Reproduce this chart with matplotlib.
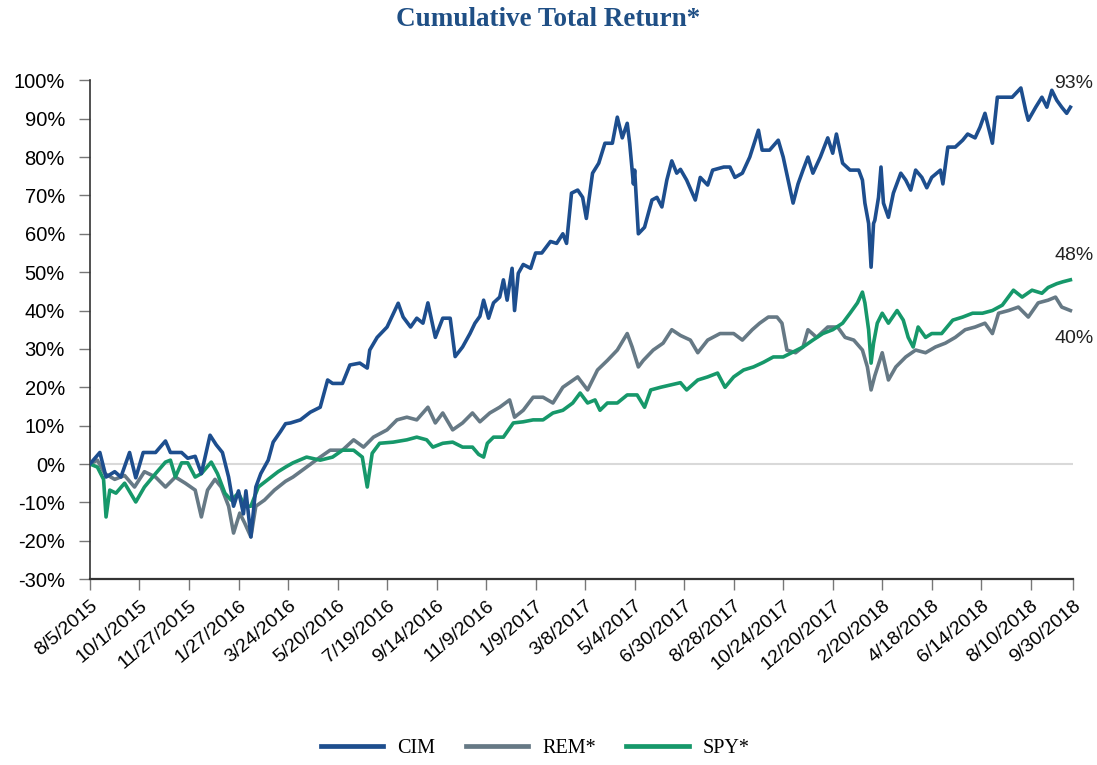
import matplotlib
matplotlib.use("Agg")
import matplotlib.pyplot as plt

# trading-day index (0 = 8/5/2015) and cumulative return in %
cim_day = [0, 8, 13, 20, 25, 32, 37, 43, 53, 61, 65, 74, 79, 85, 90, 97, 102, 107, 112, 116,
           120, 124, 126, 130, 134, 138, 144, 148, 154, 158, 162, 170, 178, 186, 192, 196, 204, 210, 218, 224,
           226, 232, 240, 249, 253, 259, 264, 269, 273, 279, 285, 291, 295, 301, 307, 311, 315, 318, 322, 326,
           331, 334, 337, 341, 343, 346, 350, 356, 360, 365, 372, 377, 382, 385, 389, 394, 398, 401, 406, 411,
           416, 422, 426, 430, 434, 436, 439, 440, 443, 448, 454, 458, 462, 466, 470, 474, 477, 482, 489, 493,
           499, 503, 512, 517, 521, 527, 533, 540, 543, 549, 556, 560, 564, 568, 572, 576, 580, 584, 590, 596,
           600, 603, 608, 614, 621, 624, 626, 629, 631, 633, 634, 637, 639, 641, 645, 649, 655, 659, 663, 667,
           672, 676, 680, 687, 689, 693, 699, 705, 709, 715, 719, 723, 729, 733, 739, 745, 752, 756, 758, 764,
           769, 773, 777, 781, 785, 789, 792]
cim_ret = [0, 3, -3.4, -2, -3.4, 3, -3.6, 3, 3, 6, 3, 3, 1.5, 2, -2.5, 7.5, 5, 3, -3.4, -11,
           -7, -13, -7, -19, -6, -2.5, 1, 5.7, 8.5, 10.5, 10.7, 11.5, 13.5, 14.8, 21.9, 21, 21, 25.8, 26.3, 25,
           29.7, 33, 35.7, 41.9, 38.3, 35.7, 38, 36.7, 42, 33, 38, 38, 28, 30.5, 34, 36.7, 38.5, 42.7, 38, 42,
           43.5, 48, 42.7, 51, 40, 49.7, 52, 51, 55, 55, 58, 57.5, 60, 57.5, 70.6, 71.4, 69.5, 64, 75.8, 78.4,
           83.6, 83.6, 90.4, 85, 88.8, 83.6, 73, 76.6, 60, 61.7, 68.8, 69.5, 67, 74, 79, 75.8, 76.8, 74, 68.8, 74.7,
           72.7, 76.6, 77.4, 77.4, 74.7, 75.8, 80, 87, 81.8, 81.8, 84.4, 80, 74, 68, 73, 76.6, 80, 75.8, 80, 85,
           81, 86, 78.4, 76.6, 76.6, 74, 68, 62.7, 51.3, 62.7, 63.5, 69.5, 77.4, 68, 64.3, 70.6, 75.8, 74, 71.4, 76.6,
           74.7, 72, 74.7, 76.6, 73, 82.6, 82.6, 84.4, 86, 85, 87.8, 91.4, 83.6, 95.6, 95.6, 95.6, 98, 92, 89.6, 93,
           95.6, 93, 97.4, 94.8, 93, 91.4, 93]

rem_day = [0, 6, 12, 20, 28, 36, 44, 53, 61, 69, 77, 85, 90, 95, 101, 106, 112, 116, 121, 125,
           130, 134, 141, 149, 158, 164, 175, 186, 194, 204, 213, 221, 229, 240, 248, 256, 264, 273, 279, 285,
           293, 301, 309, 315, 323, 331, 339, 343, 350, 358, 366, 374, 382, 394, 402, 410, 418, 426, 434, 438,
           443, 447, 455, 463, 470, 477, 485, 491, 499, 509, 520, 527, 535, 541, 548, 555, 559, 563, 570, 576,
           580, 587, 596, 604, 610, 617, 624, 628, 631, 634, 640, 645, 651, 659, 667, 675, 683, 691, 699, 707,
           715, 723, 729, 734, 742, 750, 758, 766, 774, 780, 785, 792]
rem_ret = [0, 1, -2.5, -4, -3, -6, -2, -3.4, -6, -3.4, -5, -6.8, -13.8, -6.8, -4, -6, -11, -18, -12.8, -15.4,
           -19, -11, -9.4, -6.8, -4.5, -3.4, -0.8, 1.8, 3.6, 3.6, 6.3, 4.4, 7, 8.9, 11.5, 12.2, 11.5, 14.8, 10.7, 13.3,
           8.9, 10.7, 13.3, 11, 13.3, 14.8, 16.7, 12.2, 14, 17.4, 17.4, 15.9, 20, 22.7, 19.3, 24.5, 27, 29.7, 34, 30.5,
           25.3, 27, 29.7, 31.5, 35, 33.5, 32.3, 29, 32.3, 34, 34, 32.3, 35, 36.7, 38.3, 38.3, 36.7, 29.7, 29, 30.5,
           35, 33, 35.7, 35.7, 33, 32.3, 29.7, 25.3, 19.3, 23, 29, 21.9, 25.3, 27.9, 29.7, 29, 30.5, 31.5, 33, 35,
           35.7, 36.7, 34, 39.3, 40, 40.9, 38.3, 42, 42.7, 43.5, 40.9, 40]

spy_day = [0, 6, 11, 13, 16, 21, 28, 37, 44, 53, 61, 65, 69, 74, 79, 85, 90, 98, 103, 109,
           114, 120, 125, 130, 136, 144, 152, 158, 164, 175, 186, 196, 204, 213, 220, 224, 228, 234, 245, 256,
           264, 272, 277, 285, 293, 301, 309, 314, 318, 321, 326, 334, 342, 350, 358, 366, 374, 382, 390, 396,
           402, 408, 412, 418, 426, 434, 442, 448, 453, 461, 469, 477, 482, 491, 499, 507, 513, 520, 528, 536,
           544, 552, 560, 568, 576, 584, 592, 600, 608, 614, 620, 624, 626, 629, 631, 633, 636, 640, 645, 652,
           657, 661, 665, 669, 675, 680, 688, 697, 705, 713, 721, 729, 737, 746, 753, 761, 769, 774, 781, 786,
           792]
spy_ret = [0, -0.8, -4, -13.8, -6.8, -7.6, -5, -9.9, -6, -2.5, 0.5, 1, -3.4, 0.3, 0.3, -3.4, -2.5, 0.5, -2.5, -7.6,
           -9.4, -7.6, -11, -11, -6, -4, -2, -0.8, 0.3, 1.8, 1, 1.8, 3.6, 3.6, 1.8, -6, 2.8, 5.4, 5.7, 6.3,
           7, 6.3, 4.4, 5.4, 5.7, 4.4, 4.4, 2.5, 1.8, 5.4, 7, 7, 10.7, 11, 11.5, 11.5, 13.3, 14, 15.9, 18.5,
           15.9, 16.7, 14, 15.9, 15.9, 18, 18, 14.8, 19.3, 20, 20.6, 21.2, 19.3, 21.9, 22.7, 23.7, 20, 22.7, 24.5, 25.3,
           26.5, 27.9, 27.9, 29.2, 30.5, 32.3, 34, 35, 36.7, 39.3, 42, 44.8, 42, 35, 26.3, 31.5, 36.7, 39.3, 36.7, 40,
           37.5, 33, 30.5, 35.7, 33, 34, 34, 37.5, 38.3, 39.3, 39.3, 40, 41.4, 45.3, 43.5, 45.3, 44.5, 46, 47, 47.5,
           48]

tick_day = [0, 40, 80, 120, 160, 200, 240, 280, 320, 360, 400, 440, 480, 520, 560, 600, 640, 680, 720, 760, 794]
tick_lbl = ["8/5/2015", "10/1/2015", "11/27/2015", "1/27/2016", "3/24/2016", "5/20/2016", "7/19/2016",
            "9/14/2016", "11/9/2016", "1/9/2017", "3/8/2017", "5/4/2017", "6/30/2017", "8/28/2017",
            "10/24/2017", "12/20/2017", "2/20/2018", "4/18/2018", "6/14/2018", "8/10/2018", "9/30/2018"]
y_ticks = list(range(-30, 101, 10))

end_labels = [("93%", 99.2), ("48%", 54.4), ("40%", 32.8)]

c_cim = "#1d4e8e"
c_rem = "#667985"
c_spy = "#16986a"

plt.rcParams['font.family'] = ['Liberation Sans', 'DejaVu Sans']

fig = plt.figure(figsize=(10.97, 7.65), dpi=100)
ax = fig.add_axes([0.082, 0.243, 0.896, 0.652])

ax.axhline(0, color="#d9d9d9", lw=1.5, zorder=1)
ax.plot(rem_day, rem_ret, color=c_rem, lw=2.6, label="REM*", zorder=2)
ax.plot(spy_day, spy_ret, color=c_spy, lw=2.6, label="SPY*", zorder=3)
ax.plot(cim_day, cim_ret, color=c_cim, lw=2.6, label="CIM", zorder=4)

ax.set_xlim(0, 794)
ax.set_ylim(-30, 100)
ax.set_yticks(y_ticks)
ax.set_yticklabels([f"{v}%" for v in y_ticks], fontsize=14.5)
ax.set_xticks(tick_day)
ax.set_xticklabels(tick_lbl, rotation=40, ha="right", rotation_mode="anchor", fontsize=14)
ax.tick_params(axis="both", direction="out", length=8, color="#777777", width=1)
ax.tick_params(axis="y", pad=10)
ax.tick_params(axis="x", pad=5)

for s in ["top", "right"]:
    ax.spines[s].set_visible(False)
ax.spines["left"].set_color("#333333")
ax.spines["bottom"].set_color("#333333")
ax.spines["left"].set_linewidth(1.2)
ax.spines["bottom"].set_linewidth(1.6)

for txt, yv in end_labels:
    ax.text(795, yv, txt, ha="center", va="center", fontsize=14, color="#222222", clip_on=False)

fig.text(0.5, 1 - 20 / 765, "Cumulative Total Return*", ha="center", va="center",
         fontsize=19.5, fontweight="bold", color="#1f4f85", family="Liberation Serif")

h, l = ax.get_legend_handles_labels()
order = [2, 0, 1]
leg = fig.legend([h[i] for i in order], [l[i] for i in order], loc="center", bbox_to_anchor=(0.488, 1 - 748 / 765),
                 ncol=3, frameon=False, handlelength=3.1, columnspacing=1.5, handletextpad=0.7,
                 prop={"family": "Liberation Serif", "size": 14.5})
for line in leg.get_lines():
    line.set_linewidth(3.4)

fig.savefig("out.png", dpi=100)
